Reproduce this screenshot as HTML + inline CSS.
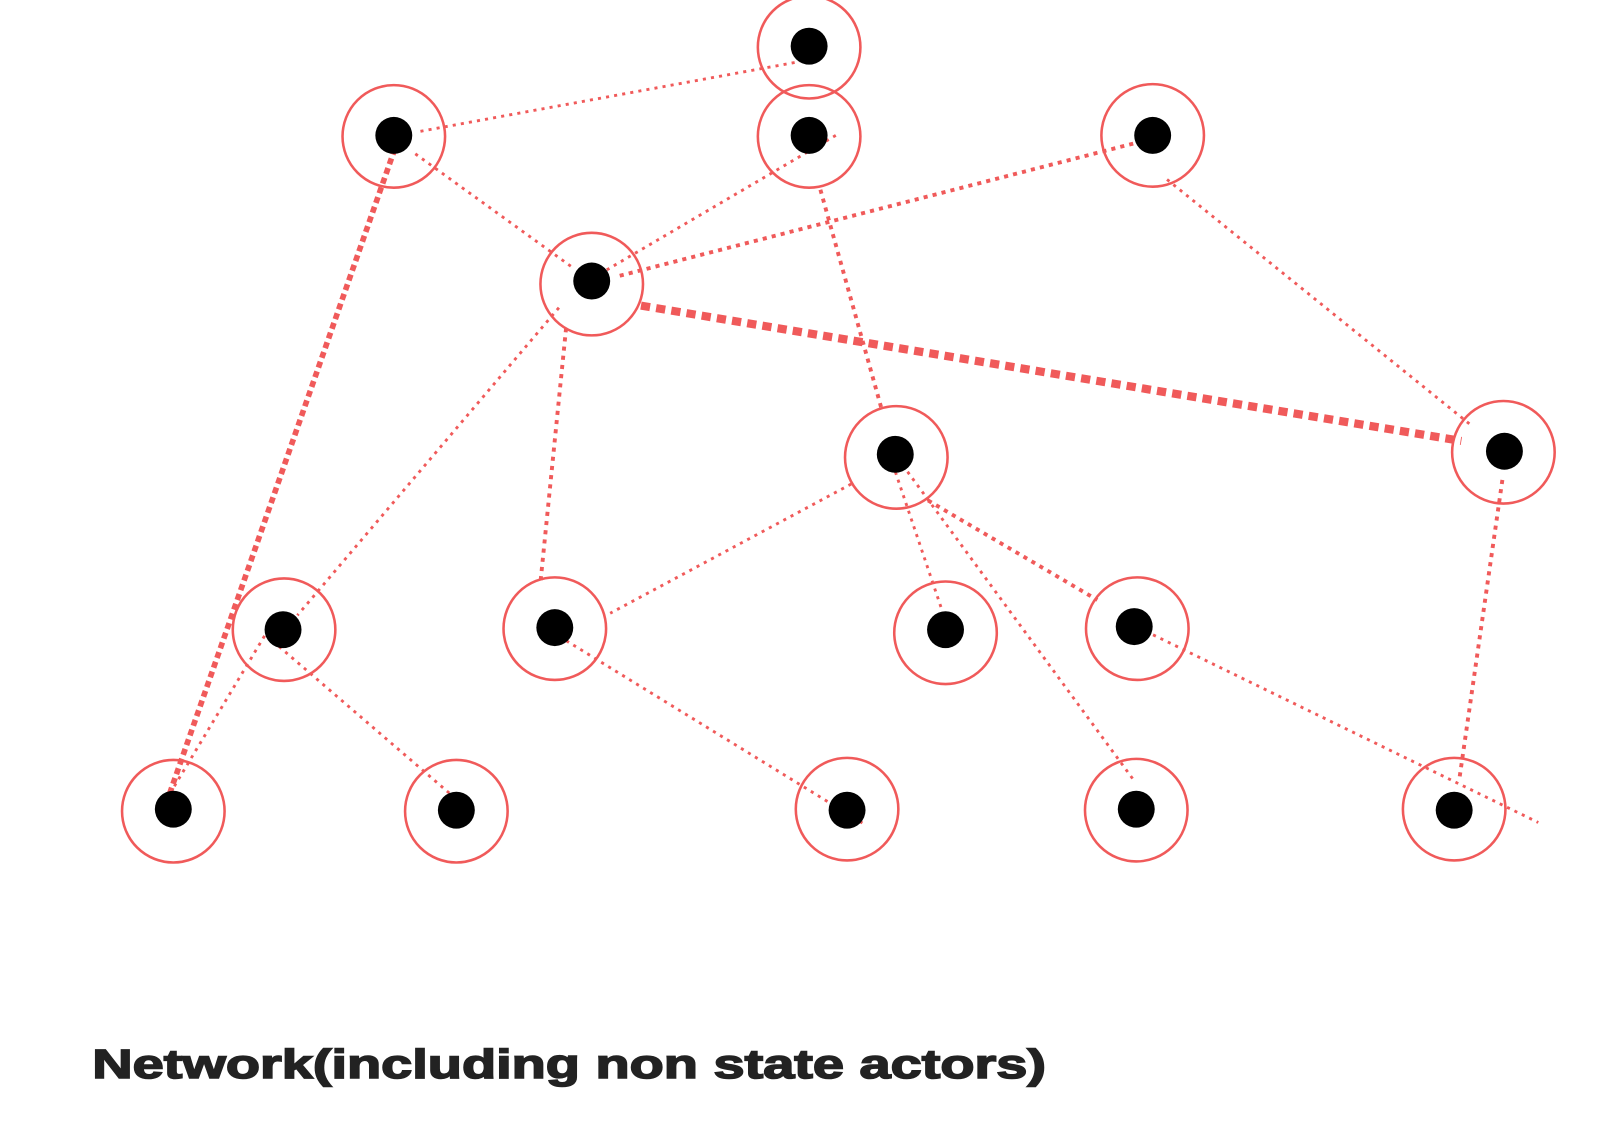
<!DOCTYPE html>
<html><head><style>html,body{margin:0;padding:0;background:#fff;}svg{display:block}</style></head>
<body>
<svg width="1608" height="1124" viewBox="0 0 1568 1096" xmlns="http://www.w3.org/2000/svg">
<g stroke="#f05a5a" fill="none" stroke-linecap="butt">
 <g stroke-width="2.8" stroke-dasharray="3 5">
  <line x1="410" y1="128" x2="780" y2="60"/>
  <line x1="405" y1="150" x2="560" y2="262"/>
  <line x1="815" y1="132" x2="580" y2="270"/>
  <line x1="545" y1="300" x2="290" y2="600"/>
  <line x1="1138" y1="175" x2="1435" y2="415"/>
  <line x1="830" y1="472" x2="595" y2="598"/>
  <line x1="868" y1="445" x2="927" y2="620"/>
  <line x1="885" y1="460" x2="1105" y2="760"/>
  <line x1="1110" y1="612" x2="1500" y2="802"/>
  <line x1="258" y1="620" x2="165" y2="775"/>
  <line x1="260" y1="620" x2="440" y2="775"/>
  <line x1="525" y1="608" x2="845" y2="805"/>
 </g>
 <g stroke-width="3.8" stroke-dasharray="4 5">
  <line x1="552" y1="320" x2="527" y2="568"/>
  <line x1="800" y1="185" x2="860" y2="400"/>
  <line x1="1465" y1="468" x2="1423" y2="760"/>
  <line x1="905" y1="488" x2="1070" y2="585"/>
  <line x1="1105" y1="140" x2="600" y2="270"/>
 </g>
 <line x1="385" y1="145" x2="165" y2="775" stroke-width="5.5" stroke-dasharray="6 4"/>
 <line x1="625" y1="298" x2="1425" y2="430" stroke-width="8" stroke-dasharray="9 6"/>
 <g stroke-width="2.5">
  <circle cx="789" cy="46" r="50"/><circle cx="384" cy="133" r="50"/><circle cx="789" cy="133" r="50"/>
  <circle cx="1124" cy="132" r="50"/><circle cx="577" cy="277" r="50"/><circle cx="874" cy="446" r="50"/>
  <circle cx="1466" cy="441" r="50"/><circle cx="277" cy="614" r="50"/><circle cx="541" cy="613" r="50"/>
  <circle cx="922" cy="617" r="50"/><circle cx="1109" cy="613" r="50"/><circle cx="169" cy="791" r="50"/>
  <circle cx="445" cy="791" r="50"/><circle cx="826" cy="789" r="50"/><circle cx="1108" cy="790" r="50"/>
  <circle cx="1418" cy="789" r="50"/>
 </g>
</g>
<g fill="#000">
 <circle cx="789" cy="45" r="18"/><circle cx="384" cy="132" r="18"/><circle cx="789" cy="132" r="18"/>
 <circle cx="1124" cy="132" r="18"/><circle cx="577" cy="274" r="18"/><circle cx="873" cy="443" r="18"/>
 <circle cx="1467" cy="440" r="18"/><circle cx="276" cy="614" r="18"/><circle cx="541" cy="612" r="18"/>
 <circle cx="922" cy="614" r="18"/><circle cx="1106" cy="611" r="18"/><circle cx="169" cy="789" r="18"/>
 <circle cx="445" cy="790" r="18"/><circle cx="826" cy="790" r="18"/><circle cx="1108" cy="789" r="18"/>
 <circle cx="1418" cy="790" r="18"/>
</g>
<text x="90" y="1051" font-family="Liberation Sans, sans-serif" font-weight="bold" font-size="40" fill="#222" stroke="#222" stroke-width="1.5" textLength="930" lengthAdjust="spacingAndGlyphs">Network(including non state actors)</text>
</svg>
</body></html>
